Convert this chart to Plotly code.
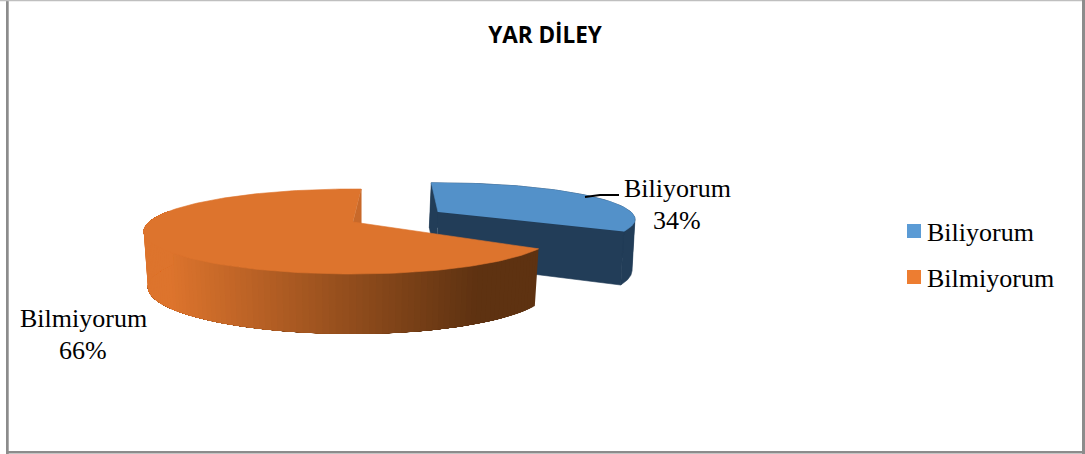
import numpy as np
import plotly.graph_objects as go

TITLE = "YAR DİLEY"
CATEGORIES = ["Biliyorum", "Bilmiyorum"]
VALUES = [34, 66]
SWATCH_COLORS = ["#5B9BD5", "#ED7D31"]

W, H = 1085, 454
SERIF = "Liberation Serif"
K = 0.2235


def rim(theta_deg, cx, cy, rx_l, rx_r, ry, k=K):
    t = np.radians(np.asarray(theta_deg, dtype=float))
    d = 1 + k * np.cos(t)
    s = np.sin(t)
    rx = np.where(s < 0, rx_l, rx_r)
    return cx + rx * s / d, cy - ry * np.cos(t) / d


def poly(xs, ys, color, line=0.6):
    return go.Scatter(
        x=list(xs), y=list(ys), mode="lines", fill="toself", fillcolor=color,
        line=dict(color=color, width=line), hoverinfo="skip", showlegend=False,
    )


def mix(a, b, t):
    return "rgb(%d,%d,%d)" % tuple(round(p + (q - p) * t) for p, q in zip(a, b))


sweep = [v / sum(VALUES) * 360 for v in VALUES]
fig = go.Figure()

# ---- first slice (pulled away from the second one)
b0 = -2.4
b1 = b0 + sweep[0]
BT = dict(cx=438, cy=212, rx_l=193, rx_r=193, ry=35, k=0.20)
BB = dict(cx=436, cy=262, rx_l=192, rx_r=192, ry=41.4, k=0.20)
BLUE_TOP, BLUE_SIDE = "#5391C9", "#223D58"

# the rim's widest point splits the outer wall into two simple outlines
b_ext = float(np.degrees(np.arccos(-BT["k"])))
for lo, hi in [(b0, b_ext), (b_ext, b1)]:
    part = np.linspace(lo, hi, 50)
    xt, yt = rim(part, **BT)
    xb, yb = rim(part, **BB)
    fig.add_trace(poly(np.r_[xt, xb[::-1]], np.r_[yt, yb[::-1]], BLUE_SIDE))

th = np.linspace(b0, b1, 80)
xt, yt = rim(th, **BT)
xb, yb = rim(th, **BB)
fig.add_trace(poly([BT["cx"], xt[0], xb[0], BB["cx"]], [BT["cy"], yt[0], yb[0], BB["cy"]], BLUE_SIDE))
fig.add_trace(poly([BT["cx"], xt[-1], xb[-1], BB["cx"]], [BT["cy"], yt[-1], yb[-1], BB["cy"]], BLUE_SIDE))
fig.add_trace(poly(np.r_[BT["cx"], xt], np.r_[BT["cy"], yt], BLUE_TOP))

# ---- second slice
o0 = 2.9 + sweep[0]
o1 = 2.9 + 360
OT = dict(cx=353, cy=222, rx_l=204, rx_r=198, ry=40.4)
OB = dict(cx=353, cy=276.5, rx_l=200, rx_r=194, ry=44.6)
ORANGE = (0xDD, 0x74, 0x2D)
DARK = (0x5E, 0x32, 0x11)

# wall of the cut seen through the notch
xs0, ys0 = rim([o1], **OT)
fig.add_trace(poly([OT["cx"], xs0[0], xs0[0], OT["cx"]],
                   [OT["cy"], ys0[0], ys0[0] + 55, OT["cy"] + 55], "#C8692A"))

# shaded outer wall: each band reaches to the far end and the next one paints over it
END = 287
edges = np.arange(o0, END, 1.5)
for a in edges[:-1]:
    seg = np.linspace(a, END, 60)
    xa, ya = rim(seg, **OT)
    xc, yc = rim(seg, **OB)
    t = float(np.clip((480 - xa[0]) / (480 - 170), 0, 1))
    fig.add_trace(poly(np.r_[xa, xc[::-1]], np.r_[ya, yc[::-1]], mix(DARK, ORANGE, t), line=0))

th = np.linspace(o0, o1, 160)
xt, yt = rim(th, **OT)
fig.add_trace(poly(np.r_[OT["cx"], xt], np.r_[OT["cy"], yt], "#DD742D"))

# ---- leader line
fig.add_trace(go.Scatter(x=[585, 600, 619], y=[197, 195, 195], mode="lines",
                         line=dict(color="black", width=2), hoverinfo="skip", showlegend=False))

# ---- legend: names from the library's legend, swatches placed at the reference's position
SWATCH_X = 914
SWATCH_Y = [231, 277]
for name, color, sy in zip(CATEGORIES, SWATCH_COLORS, SWATCH_Y):
    fig.add_trace(go.Scatter(x=[None], y=[None], mode="markers", name=name, legendgroup=name,
                             marker=dict(symbol="square", size=14, color="rgba(0,0,0,0)")))
    fig.add_trace(go.Scatter(x=[SWATCH_X], y=[sy], mode="markers", legendgroup=name, showlegend=False,
                             hoverinfo="skip", marker=dict(symbol="square", size=14, color=color)))

# ---- data labels
LABEL_POS = [(677, 188, 220), (83, 318, 350)]
for name, v, (lx, ly1, ly2) in zip(CATEGORIES, VALUES, LABEL_POS):
    label_font = dict(family=SERIF, size=26, color="#000000")
    fig.add_annotation(x=lx, y=ly1, text=name, showarrow=False, font=label_font)
    fig.add_annotation(x=lx, y=ly2, text=f"{v}%", showarrow=False, font=label_font)

# ---- frame
frame = [(6, 0, 8.7, 454, "#8C8C8C"), (0, 0, 1085, 1.3, "#BFBFBF"),
         (1082, 0, 1085, 454, "#8C8C8C"), (6, 451, 1085, 453.5, "#8C8C8C")]
for x0, y0, x1, y1, c in frame:
    fig.add_shape(type="rect", x0=x0, y0=y0, x1=x1, y1=y1, fillcolor=c, line_width=0, layer="below")

fig.update_layout(
    width=W, height=H, margin=dict(l=0, r=0, t=0, b=0),
    paper_bgcolor="white", plot_bgcolor="white",
    title=dict(text=f"<b>{TITLE}</b>", x=545 / W, xanchor="center", y=1 - 35 / H, yanchor="middle",
               font=dict(family="Open Sans", size=22.5, color="#000000")),
    xaxis=dict(range=[0, W], visible=False, fixedrange=True),
    yaxis=dict(range=[H, 0], visible=False, fixedrange=True),
    legend=dict(x=887 / W, xanchor="left", y=1 - 207 / H, yanchor="top", tracegroupgap=10,
                font=dict(family=SERIF, size=26, color="#000000"), bgcolor="rgba(0,0,0,0)"),
    showlegend=True,
)

fig.write_html("out.html", config={"displayModeBar": False},
               post_script="document.body.style.margin='0';document.body.style.overflow='hidden';")
